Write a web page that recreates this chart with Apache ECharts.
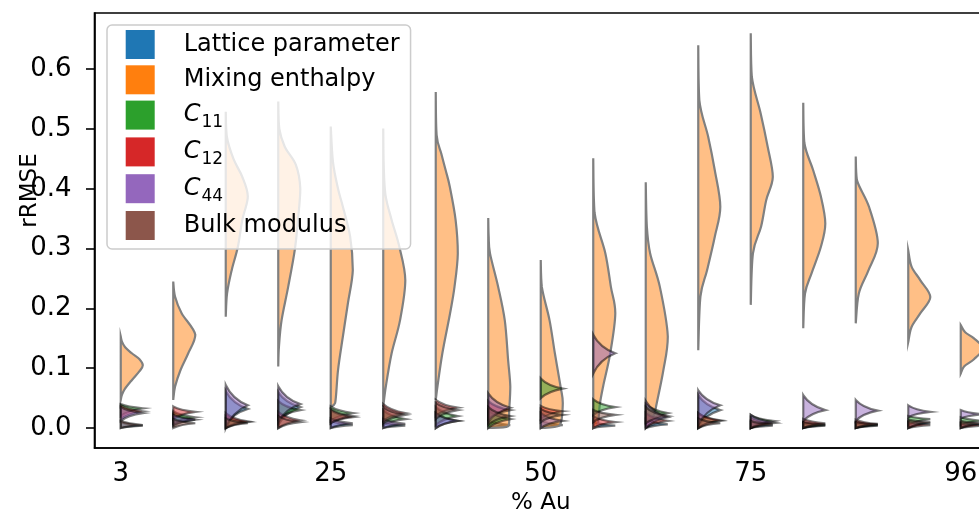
<!DOCTYPE html>
<html>
<head>
<meta charset="utf-8">
<script src="https://cdn.jsdelivr.net/npm/echarts@6/dist/echarts.min.js"></script>
<style>
  html, body { margin: 0; padding: 0; background: #fff; }
  #chart { width: 979px; height: 513px; }
</style>
</head>
<body>
<div id="chart"></div>
<script>
// % Au per column; only every 4th one gets a tick label
const categories = ['3', '9', '14', '20', '25', '31', '37', '43', '50', '56', '62', '68', '75', '81', '87', '93', '96'];
const yTicks = [0, 0.1, 0.2, 0.3, 0.4, 0.5, 0.6];

// Mixing enthalpy: violin outline per column, [rRMSE, relative half-width]
const mixingEnthalpy = [
  [[0.047, 0], [0.055, 0.05], [0.065, 0.18], [0.08, 0.5], [0.095, 0.85], [0.105, 1], [0.115, 0.85], [0.125, 0.5], [0.135, 0.2], [0.145, 0.05], [0.153, 0]],
  [[0.047, 0], [0.069, 0.08], [0.097, 0.33], [0.125, 0.68], [0.156, 1], [0.192, 0.38], [0.22, 0.08], [0.245, 0]],
  [[0.186, 0], [0.225, 0.06], [0.264, 0.27], [0.303, 0.55], [0.348, 0.75], [0.387, 1], [0.42, 0.75], [0.45, 0.35], [0.487, 0.05], [0.529, 0]],
  [[0.103, 0], [0.135, 0.03], [0.18, 0.15], [0.236, 0.45], [0.298, 0.75], [0.35, 0.9], [0.4, 1], [0.44, 0.8], [0.47, 0.3], [0.5, 0.05], [0.546, 0]],
  [[0.036, 0], [0.042, 0.2], [0.097, 0.33], [0.153, 0.55], [0.209, 0.78], [0.264, 1], [0.32, 0.88], [0.37, 0.55], [0.4, 0.33], [0.445, 0.1], [0.504, 0]],
  [[0.036, 0], [0.07, 0.12], [0.125, 0.38], [0.18, 0.76], [0.247, 1], [0.303, 0.73], [0.348, 0.38], [0.39, 0.1], [0.44, 0.02], [0.501, 0]],
  [[0.047, 0], [0.07, 0.08], [0.125, 0.3], [0.192, 0.65], [0.236, 0.85], [0.292, 1], [0.348, 0.9], [0.403, 0.64], [0.431, 0.45], [0.459, 0.25], [0.49, 0.04], [0.562, 0]],
  [[0.0, 0], [0.003, 0.9], [0.03, 0.95], [0.069, 1], [0.114, 0.9], [0.18, 0.75], [0.236, 0.45], [0.292, 0.08], [0.32, 0.02], [0.351, 0]],
  [[0.0, 0], [0.004, 0.85], [0.042, 1], [0.069, 0.9], [0.125, 0.64], [0.18, 0.4], [0.236, 0.05], [0.281, 0]],
  [[0.0, 0], [0.005, 0.2], [0.04, 0.3], [0.07, 0.45], [0.125, 0.77], [0.192, 1], [0.236, 0.8], [0.292, 0.55], [0.36, 0.06], [0.451, 0]],
  [[0.01, 0], [0.02, 0.35], [0.042, 0.5], [0.097, 0.8], [0.153, 1], [0.236, 0.64], [0.292, 0.2], [0.337, 0.05], [0.411, 0]],
  [[0.13, 0], [0.22, 0.1], [0.264, 0.4], [0.32, 0.75], [0.37, 1], [0.431, 0.75], [0.487, 0.45], [0.548, 0.05], [0.64, 0]],
  [[0.206, 0], [0.292, 0.1], [0.337, 0.47], [0.381, 0.7], [0.42, 1], [0.47, 0.77], [0.526, 0.45], [0.587, 0.05], [0.66, 0]],
  [[0.167, 0], [0.225, 0.08], [0.259, 0.38], [0.303, 0.8], [0.342, 1], [0.387, 0.8], [0.431, 0.45], [0.477, 0.05], [0.544, 0]],
  [[0.175, 0], [0.225, 0.14], [0.264, 0.58], [0.309, 1], [0.37, 0.6], [0.415, 0.05], [0.454, 0]],
  [[0.144, 0], [0.169, 0.15], [0.192, 0.55], [0.219, 1], [0.247, 0.55], [0.27, 0.15], [0.297, 0]],
  [[0.091, 0], [0.103, 0.15], [0.115, 0.6], [0.133, 1], [0.15, 0.6], [0.16, 0.2], [0.172, 0]]
];

// the small ones near zero: [low end, peak, high end] per column
const latticeParameter = [
  [0.0, 0.004, 0.01], [0.003, 0.014, 0.025], [0.005, 0.032, 0.062], [0.005, 0.035, 0.06], [0.0, 0.005, 0.012],
  [0.0, 0.004, 0.01], [0.0, 0.012, 0.025], [0.0, 0.005, 0.012], [0.0, 0.005, 0.012], [0.0, 0.004, 0.01],
  [0.0, 0.006, 0.015], [0.003, 0.03, 0.055], [0.0, 0.004, 0.01], [0.0, 0.004, 0.008], [0.0, 0.004, 0.008],
  [0.0, 0.008, 0.012], [0.0, 0.006, 0.01]
];
const c11 = [
  [0.02, 0.033, 0.04], [0.008, 0.018, 0.028], [0.0, 0.01, 0.02], [0.015, 0.03, 0.045], [0.012, 0.025, 0.036],
  [0.005, 0.015, 0.03], [0.005, 0.02, 0.035], [0.0, 0.015, 0.03], [0.05, 0.066, 0.083], [0.022, 0.035, 0.048],
  [0.005, 0.025, 0.04], [0.0, 0.012, 0.025], [0.0, 0.012, 0.022], [0.0, 0.005, 0.01], [0.0, 0.005, 0.01],
  [0.005, 0.015, 0.02], [0.005, 0.012, 0.018]
];
const c12 = [
  [0.015, 0.028, 0.038], [0.015, 0.027, 0.036], [0.0, 0.011, 0.025], [0.0, 0.013, 0.027], [0.008, 0.018, 0.03],
  [0.012, 0.025, 0.04], [0.02, 0.034, 0.047], [0.015, 0.03, 0.045], [0.015, 0.028, 0.037], [0.0, 0.01, 0.02],
  [0.0, 0.012, 0.025], [0.0, 0.013, 0.025], [0.0, 0.008, 0.018], [0.0, 0.008, 0.015], [0.0, 0.007, 0.014],
  [0.0, 0.005, 0.01], [0.0, 0.004, 0.008]
];
const c44 = [
  [0.012, 0.025, 0.035], [0.005, 0.014, 0.022], [0.0, 0.038, 0.072], [0.01, 0.04, 0.07], [0.0, 0.008, 0.016],
  [0.0, 0.007, 0.015], [0.0, 0.012, 0.025], [0.01, 0.034, 0.058], [0.0, 0.012, 0.025], [0.091, 0.125, 0.156],
  [0.0, 0.018, 0.045], [0.005, 0.038, 0.063], [0.0, 0.01, 0.022], [0.012, 0.03, 0.055], [0.012, 0.029, 0.047],
  [0.018, 0.027, 0.038], [0.016, 0.023, 0.03]
];
const bulkModulus = [
  [0.0, 0.005, 0.012], [0.0, 0.008, 0.015], [0.0, 0.008, 0.016], [0.0, 0.01, 0.02], [0.008, 0.02, 0.032],
  [0.008, 0.022, 0.035], [0.015, 0.03, 0.042], [0.005, 0.02, 0.035], [0.01, 0.022, 0.032], [0.01, 0.022, 0.03],
  [0.008, 0.02, 0.035], [0.0, 0.008, 0.016], [0.0, 0.006, 0.012], [0.0, 0.006, 0.01], [0.0, 0.006, 0.01],
  [0.0, 0.01, 0.014], [0.0, 0.008, 0.012]
];

const FONT = 'DejaVu Sans';
const HALF = 0.42; // half violin width as fraction of the band

// low/peak/high -> outline
function toOutline(t) {
  return [[t[0], 0], [t[1], 1], [t[2], 0]];
}

function buildPath(cx, hw, pts, smooth) {
  const cl = x => Math.max(cx, Math.min(cx + hw, x));
  let d = 'M' + cx + ',' + pts[0][1] + 'L' + pts[0][0] + ',' + pts[0][1];
  const n = pts.length;
  for (let i = 0; i < n - 1; i++) {
    const p1 = pts[i], p2 = pts[i + 1];
    if (!smooth) {
      // slightly hollow sides, like a narrow kde
      const inner = p1[0] < p2[0] ? p1 : p2, outer = p1[0] < p2[0] ? p2 : p1;
      const qx = inner[0] + 0.3 * (outer[0] - inner[0]);
      const qy = inner[1] + 0.7 * (outer[1] - inner[1]);
      d += 'Q' + qx + ',' + qy + ' ' + p2[0] + ',' + p2[1];
      continue;
    }
    const p0 = pts[Math.max(i - 1, 0)], p3 = pts[Math.min(i + 2, n - 1)];
    const lo = Math.min(p1[1], p2[1]), hi = Math.max(p1[1], p2[1]);
    const cy = y => Math.max(lo, Math.min(hi, y));
    const c1x = cl(p1[0] + (p2[0] - p0[0]) / 6), c1y = cy(p1[1] + (p2[1] - p0[1]) / 6);
    const c2x = cl(p2[0] - (p3[0] - p1[0]) / 6), c2y = cy(p2[1] - (p3[1] - p1[1]) / 6);
    d += 'C' + c1x + ',' + c1y + ' ' + c2x + ',' + c2y + ' ' + p2[0] + ',' + p2[1];
  }
  d += 'L' + cx + ',' + pts[n - 1][1] + 'Z';
  return d;
}

function violinSeries(name, color, fill, stroke, outlines, smooth) {
  return {
    type: 'custom',
    name: name,
    silent: true,
    animation: false,
    itemStyle: { color: color },
    data: outlines.map((p, i) => [i, p[0][0], p[p.length - 1][0]]),
    encode: { x: 0, y: [1, 2] },
    renderItem: function (params, api) {
      const i = api.value(0);
      const prof = outlines[params.dataIndex];
      const cx = api.coord([i, 0])[0];
      const hw = api.size([1, 0])[0] * HALF;
      const pts = prof.map(p => [cx + p[1] * hw, api.coord([i, p[0]])[1]]);
      return {
        type: 'path',
        shape: { pathData: buildPath(cx, hw, pts, smooth) },
        style: { fill: fill, stroke: stroke, lineWidth: 2.2 }
      };
    }
  };
}

const chart = echarts.init(document.getElementById('chart'));

const edge = 'rgba(0,0,0,0.5)';

chart.setOption({
  animation: false,
  grid: {
    left: 94.5, top: 13, width: 892.5, height: 435,
    outerBoundsMode: 'none',
    containLabel: false,
    show: true, borderColor: '#000', borderWidth: 1.6, backgroundColor: 'transparent'
  },
  legend: {
    left: 107, top: 25,
    orient: 'vertical',
    icon: 'rect',
    itemWidth: 29, itemHeight: 29, itemGap: 6.3,
    padding: [5, 11, 9, 18.7],
    backgroundColor: 'rgba(255,255,255,0.8)',
    borderColor: '#cccccc', borderWidth: 1.5, borderRadius: 5,
    selectedMode: false,
    data: [
      { name: 'Lattice parameter', itemStyle: { color: '#1f77b4' } },
      { name: 'Mixing enthalpy', itemStyle: { color: '#ff7f0e' } },
      { name: 'C11', itemStyle: { color: '#2ca02c' } },
      { name: 'C12', itemStyle: { color: '#d62728' } },
      { name: 'C44', itemStyle: { color: '#9467bd' } },
      { name: 'Bulk modulus', itemStyle: { color: '#8c564b' } }
    ],
    formatter: function (name) {
      if (/^C\d+$/.test(name)) return '{it|C}{sub|' + name.slice(1) + '}';
      return name;
    },
    textStyle: {
      fontFamily: FONT, fontSize: 24, color: '#000',
      padding: [0, 0, 0, 24],
      rich: {
        it: { fontFamily: FONT, fontSize: 24, fontStyle: 'italic', color: '#000' },
        sub: { fontFamily: FONT, fontSize: 17, color: '#000', verticalAlign: 'bottom', padding: [0, 0, -4, 1] }
      }
    }
  },
  xAxis: {
    type: 'category',
    data: categories,
    boundaryGap: true,
    name: '% Au',
    nameLocation: 'middle',
    nameGap: 44,
    nameMoveOverlap: false,
    nameTextStyle: { fontFamily: FONT, fontSize: 23, color: '#000' },
    axisLine: { onZero: false, lineStyle: { color: '#000', width: 1.6 } },
    axisTick: { alignWithLabel: true, interval: 3, length: 8.5, lineStyle: { color: '#000', width: 1.6 } },
    axisLabel: { interval: 3, margin: 13, fontFamily: FONT, fontSize: 26, color: '#000' },
    splitLine: { show: false }
  },
  yAxis: {
    type: 'value',
    min: -0.0334,
    max: 0.694,
    name: 'rRMSE',
    nameLocation: 'middle',
    nameGap: 53,
    nameMoveOverlap: false,
    nameTextStyle: { fontFamily: FONT, fontSize: 23, color: '#000', padding: [0, 0, 0, 80] },
    axisLine: { show: true, onZero: false, lineStyle: { color: '#000', width: 1.6 } },
    axisTick: { show: true, length: 8.5, customValues: yTicks, lineStyle: { color: '#000', width: 1.6 } },
    axisLabel: {
      customValues: yTicks, margin: 23, fontFamily: FONT, fontSize: 26, color: '#000',
      formatter: v => v.toFixed(1)
    },
    splitLine: { show: false }
  },
  series: [
    violinSeries('Lattice parameter', '#1f77b4', 'rgba(31,119,180,0.5)', edge, latticeParameter.map(toOutline), false),
    violinSeries('Mixing enthalpy', '#ff7f0e', 'rgba(255,127,14,0.5)', '#808080', mixingEnthalpy, true),
    violinSeries('C11', '#2ca02c', 'rgba(44,160,44,0.5)', edge, c11.map(toOutline), false),
    violinSeries('C12', '#d62728', 'rgba(214,39,40,0.5)', edge, c12.map(toOutline), false),
    violinSeries('C44', '#9467bd', 'rgba(148,103,189,0.5)', edge, c44.map(toOutline), false),
    violinSeries('Bulk modulus', '#8c564b', 'rgba(140,86,75,0.5)', edge, bulkModulus.map(toOutline), false)
  ]
});
</script>
</body>
</html>
